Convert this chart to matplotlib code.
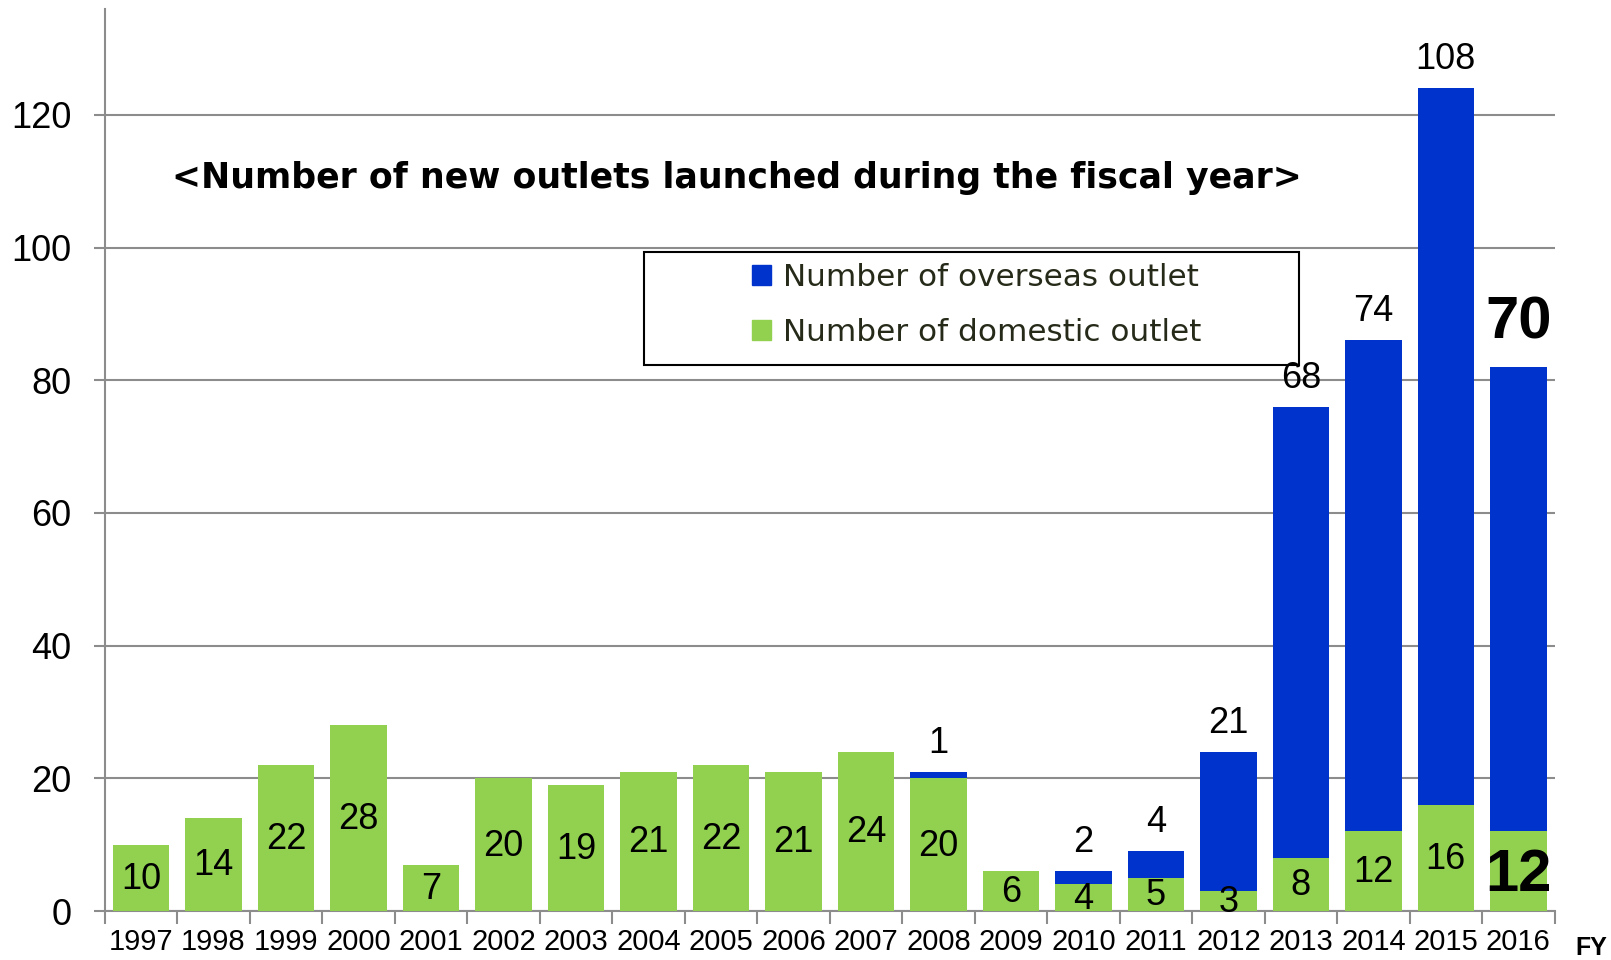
import numpy as np
import matplotlib
matplotlib.use("Agg")
import matplotlib.pyplot as plt
from matplotlib.patches import Patch, Rectangle

years = [str(y) for y in range(1997, 2017)]
domestic = [10, 14, 22, 28, 7, 20, 19, 21, 22, 21, 24, 20, 6, 4, 5, 3, 8, 12, 16, 12]
overseas = [0, 0, 0, 0, 0, 0, 0, 0, 0, 0, 0, 1, 0, 2, 4, 21, 68, 74, 108, 70]

GREEN = "#92d050"
BLUE = "#0033cc"
GRID = "#8c8c8c"

plt.rcParams["font.family"] = ["Liberation Sans", "DejaVu Sans"]

fig = plt.figure(figsize=(16.11, 9.6), dpi=100)
ax = fig.add_axes([0.065, 0.051, 0.9, 0.94])

x = np.arange(len(years))
w = 0.78
ax.bar(x, domestic, w, color=GREEN, edgecolor="none", zorder=3)
ax.bar(x, overseas, w, bottom=domestic, color=BLUE, edgecolor="none", zorder=3)

# domestic counts sit in the middle of the green segment
for i, d in enumerate(domestic):
    if i == len(years) - 1:
        ax.text(x[i], d / 2 - 0.7, str(d), ha="center", va="center",
                fontsize=43, fontweight="bold", zorder=4)
    else:
        ax.text(x[i], d / 2 - 0.2, str(d), ha="center", va="center",
                fontsize=26, zorder=4)

# overseas counts go above the stacked total
for i, (d, o) in enumerate(zip(domestic, overseas)):
    if o == 0:
        continue
    top = d + o
    if i == len(years) - 1:
        ax.annotate(str(o), (x[i], top), xytext=(0, 12), textcoords="offset points",
                    ha="center", va="bottom", fontsize=43, fontweight="bold")
    else:
        ax.annotate(str(o), (x[i], top), xytext=(0, 8), textcoords="offset points",
                    ha="center", va="bottom", fontsize=26)

ax.set_xlim(-0.5, len(years) - 0.5)
ax.set_ylim(0, 136)
ax.set_yticks(range(0, 121, 20))
ax.yaxis.grid(True, color=GRID, linewidth=1.5, zorder=0)
ax.set_axisbelow(True)

ax.set_xticks(x)
ax.set_xticklabels(years, fontsize=21)
ax.set_xticks(np.arange(-0.5, len(years)), minor=True)
ax.tick_params(axis="x", which="major", length=0, pad=12)
ax.tick_params(axis="x", which="minor", length=9, width=1.5, color=GRID, direction="out")
ax.tick_params(axis="y", length=8, width=1.5, color=GRID, pad=16, labelsize=26)

for side in ("top", "right"):
    ax.spines[side].set_visible(False)
for side in ("left", "bottom"):
    ax.spines[side].set_color(GRID)
    ax.spines[side].set_linewidth(1.5)

ax.text(0.436, 0.812, "<Number of new outlets launched during the fiscal year>",
        transform=ax.transAxes, ha="center", va="center", fontsize=25,
        fontweight="bold", family="DejaVu Sans")

# legend with its own frame
ax.add_patch(Rectangle((0.372, 0.605), 0.452, 0.125, transform=ax.transAxes,
                       fill=False, edgecolor="black", linewidth=1.5, zorder=5))
handles = [Patch(color=BLUE), Patch(color=GREEN)]
ax.legend(handles, ["Number of overseas outlet", "Number of domestic outlet"],
          loc="upper left", bbox_to_anchor=(0.429, 0.746), frameon=False,
          prop={"family": "DejaVu Sans", "size": 22.4}, labelcolor="#262b19",
          handlelength=0.62, handleheight=0.62, handletextpad=0.4,
          labelspacing=0.85, borderpad=0.3)

fig.text(0.988, 0.0, "FY", ha="center", va="bottom", fontsize=18, fontweight="bold")

fig.savefig("out.png", dpi=100)
